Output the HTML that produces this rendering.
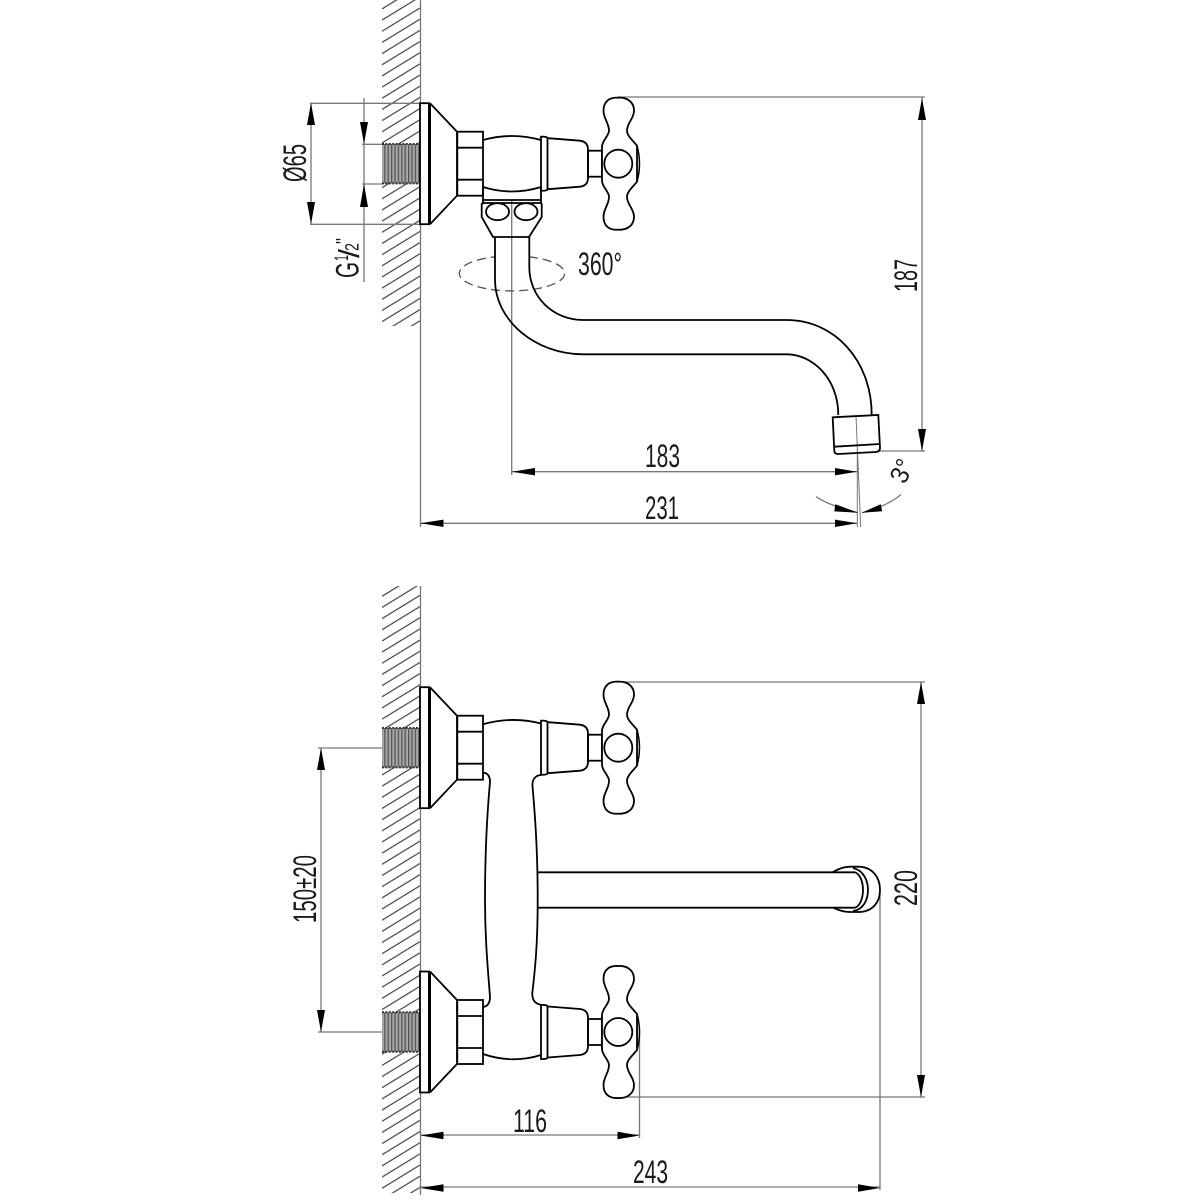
<!DOCTYPE html>
<html><head><meta charset="utf-8"><style>html,body{margin:0;padding:0;background:#fff}svg{display:block}text{font-family:"Liberation Sans",sans-serif;fill:#1a1a1a;font-size:32px}</style></head><body>
<svg width="1200" height="1200" viewBox="0 0 1200 1200" xmlns="http://www.w3.org/2000/svg">
<defs>
<pattern id="h1" patternUnits="userSpaceOnUse" width="38" height="11.17" patternTransform="translate(382 321.7)"><path d="M0,0L38,-23.3M0,11.17L38,-12.13M0,22.34L38,-.96M0,33.51L38,10.21" stroke="#444" stroke-width="1.2" fill="none"/></pattern>
<pattern id="h2" patternUnits="userSpaceOnUse" width="38" height="11.17" patternTransform="translate(382 1188.3)"><path d="M0,0L38,-23.3M0,11.17L38,-12.13M0,22.34L38,-.96M0,33.51L38,10.21" stroke="#444" stroke-width="1.2" fill="none"/></pattern>
<pattern id="th" patternUnits="userSpaceOnUse" width="3.4" height="10"><rect width="3.4" height="10" fill="#a8a8a8"/><rect width="1.3" height="10" fill="#555"/></pattern>
<g id="v" fill="none" stroke="#000" stroke-width="1.8">
<rect x="382" y="-19.7" width="38" height="39.5" fill="url(#th)" stroke="none"/>
<path d="M382,-19.7H420M382,19.7H420" stroke="#333" stroke-width="2" stroke-dasharray="2 1.4"/>
<rect x="420" y="-60.5" width="9" height="121" fill="#fff"/>
<path d="M429.5,-60.5V60.5" stroke-width="3"/>
<path d="M430,-60.5L457,-32V32L430,60.5"/>
<rect x="457.3" y="-32" width="25.7" height="64" fill="#fff"/>
<path d="M457.3,-16H483M457.3,16H483"/>
<path d="M541,-27Q547.5,-27.5 547.5,-25V25Q547.5,27.5 541,27Z" fill="#fff"/>
<path d="M548,-25.5L580,-23Q588,-22 588,-14V14Q588,22 580,23L548,25.5"/>
<rect x="588" y="-13" width="14" height="26"/>
<path d="M637,-18Q642,0 637,18" stroke-width="1.5"/>
<path d="M618,-66C627,-66.5 634,-62 634,-53C634,-45 627,-41 627,-33C627,-28 633,-23 637,-18V18C633,23 627,28 627,33C627,41 634,45 634,53C634,62 627,66.5 618,66C609,66.5 603.5,62 603.5,53C603.5,45 609,41 609,33C609,28 602,23 602,17V-17C602,-23 609,-28 609,-33C609,-41 603.5,-45 603.5,-53C603.5,-62 609,-66.5 618,-66Z" fill="#fff"/>
<circle cx="618.3" cy="0" r="14"/>
</g>
</defs>

<!-- walls -->
<rect x="382" y="0" width="38" height="326" fill="url(#h1)"/>
<rect x="382" y="586" width="38" height="607" fill="url(#h2)"/>

<!-- dimension lines -->
<g fill="none" stroke="#777" stroke-width="1.3">
<path d="M420.5,0V527M420.5,586V1195"/>
<path d="M310,103.3H420M310,224.3H420M311,103V224"/>
<path d="M362,144.3H382M362,184H382M364,98V282"/>
<path d="M618,97H925M879,451H925M922,97V451"/>
<path d="M511.7,200V475M420,523.3H857M512,471.7H857"/>
<path d="M857.3,447V527M856,416L860.7,527" stroke-width="1"/>
<path d="M816,496.7Q830,506 858,512.7M901,494.3Q888,506 862,512.7"/>
<path d="M618,682H925M618,1097H925M921,682V1097"/>
<path d="M318,748H383M318,1032H383M321,748V1032"/>
<path d="M639.5,1030V1138M420,1135H640M880,893V1190M420,1187H880"/>
<path d="M529,256.8A52.7,17.5 0 1 1 495,256.8" stroke="#555" stroke-dasharray="9 5"/>
</g>

<!-- arrowheads -->
<g fill="#000">
<path d="M311,103l-4,22h8zM311,224l-4,-22h8z"/>
<path d="M364,144l-4,-22h8zM364,184l-4,23h8z"/>
<path d="M922,98l-4,22h8zM922,451l-4,-22h8z"/>
<path d="M512,471.7l23,-3.7v7.4zM857,471.7l-22,-3.7v7.4z"/>
<path d="M420.5,523.3l23,-3.7v7.4zM857,523.3l-22,-3.7v7.4z"/>
<path d="M858.3,512.7l-23,-8.5l-1,7.2zM861.7,512.7l19,-8.5l1.5,7z"/>
<path d="M921,682l-4,22h8zM921,1097l-4,-22h8z"/>
<path d="M321,748l-4,22h8zM321,1032l-4,-22h8z"/>
<path d="M420.5,1135.5l23,-3.7v7.4zM639.5,1135.5l-22,-3.7v7.4z"/>
<path d="M420.5,1188l23,-3.7v7.4zM880,1188l-22,-3.7v7.4z"/>
</g>

<!-- top view -->
<use href="#v" transform="translate(0 163.7)"/>
<g fill="none" stroke="#000" stroke-width="1.8">
<path d="M483,140Q512,132 541,140M483,187Q512,196 541,187M483,187V200H541V187M483,203H541"/>
<path d="M483,200V203L481.7,204V217L493,237H529L541.7,217V204L541,203V200"/>
<ellipse cx="497.5" cy="211.7" rx="11.5" ry="8.5"/>
<ellipse cx="526" cy="211.7" rx="11.5" ry="8.5"/>
<path d="M529.3,237V267C529.3,297 553,320 583.3,320H786.7C834,320 871.7,360 871.7,415"/>
<path d="M495,237V280C495,320 535,354.3 583.3,354.3H786.7C812,354.3 838.3,378 838.3,415"/>
<path d="M832.7,417.3L878.3,415L880,448Q880,451.5 876,452L838,454Q834.7,454 834.3,451Z"/>
<path d="M834.3,446.7L880,444"/>
</g>

<!-- bottom view -->
<use href="#v" transform="translate(0 747.7)"/>
<use href="#v" transform="translate(0 1032)"/>
<g fill="none" stroke="#000" stroke-width="1.8">
<path d="M483,724.3Q512,716 541,723.5"/>
<path d="M483,772.7Q490,773 490,782C487,815 485,850 485,900C485,940 488,970 490,997Q490,1006 483,1007"/>
<path d="M541.7,775C535,775 532,780 532.5,786C535,815 537.7,850 537.7,900C537.7,945 535,970 532.3,993C532,1000 535,1004 541.7,1005"/>
<path d="M483,1054Q512,1064 541,1055"/>
<path d="M538,872.3H855C860,874 863,882 863,890C863,898 860,906 855,907.7H538"/>
<path d="M833,872C840,868 845,866.7 850,866.7H858C873,866.7 880,878 880,890C880,902 873,912 858,912H850C845,912 840,911 833,907.7"/>
<path d="M853,868C863,870 868,880 868,890C868,900 863,910 853,911"/>
</g>

<!-- labels -->
<text transform="translate(306 182) rotate(-90)" textLength="38" lengthAdjust="spacingAndGlyphs">Ø65</text>
<text transform="translate(358.5 278) rotate(-90)" textLength="16" lengthAdjust="spacingAndGlyphs">G</text>
<text transform="translate(348 261) rotate(-90)" style="font-size:19px" textLength="6" lengthAdjust="spacingAndGlyphs">1</text>
<text transform="translate(359 258) rotate(-90)" style="font-size:29px" textLength="9" lengthAdjust="spacingAndGlyphs">/</text>
<text transform="translate(358.5 251) rotate(-90)" style="font-size:19px" textLength="8" lengthAdjust="spacingAndGlyphs">2</text>
<text transform="translate(350 244) rotate(-90)" style="font-size:20px" textLength="6" lengthAdjust="spacingAndGlyphs">"</text>
<text x="578" y="275" textLength="44" lengthAdjust="spacingAndGlyphs">360°</text>
<text x="645" y="467" textLength="35" lengthAdjust="spacingAndGlyphs">183</text>
<text x="645" y="519" textLength="34" lengthAdjust="spacingAndGlyphs">231</text>
<text transform="translate(917 292) rotate(-90)" textLength="33" lengthAdjust="spacingAndGlyphs">187</text>
<text transform="translate(905 485) rotate(-65)" style="font-size:26px" textLength="23" lengthAdjust="spacingAndGlyphs">3°</text>
<text transform="translate(917 906) rotate(-90)" textLength="36" lengthAdjust="spacingAndGlyphs">220</text>
<text transform="translate(316 923) rotate(-90)" textLength="68" lengthAdjust="spacingAndGlyphs">150±20</text>
<text x="513" y="1132" textLength="34" lengthAdjust="spacingAndGlyphs">116</text>
<text x="633" y="1183" textLength="35" lengthAdjust="spacingAndGlyphs">243</text>
</svg>
</body></html>
